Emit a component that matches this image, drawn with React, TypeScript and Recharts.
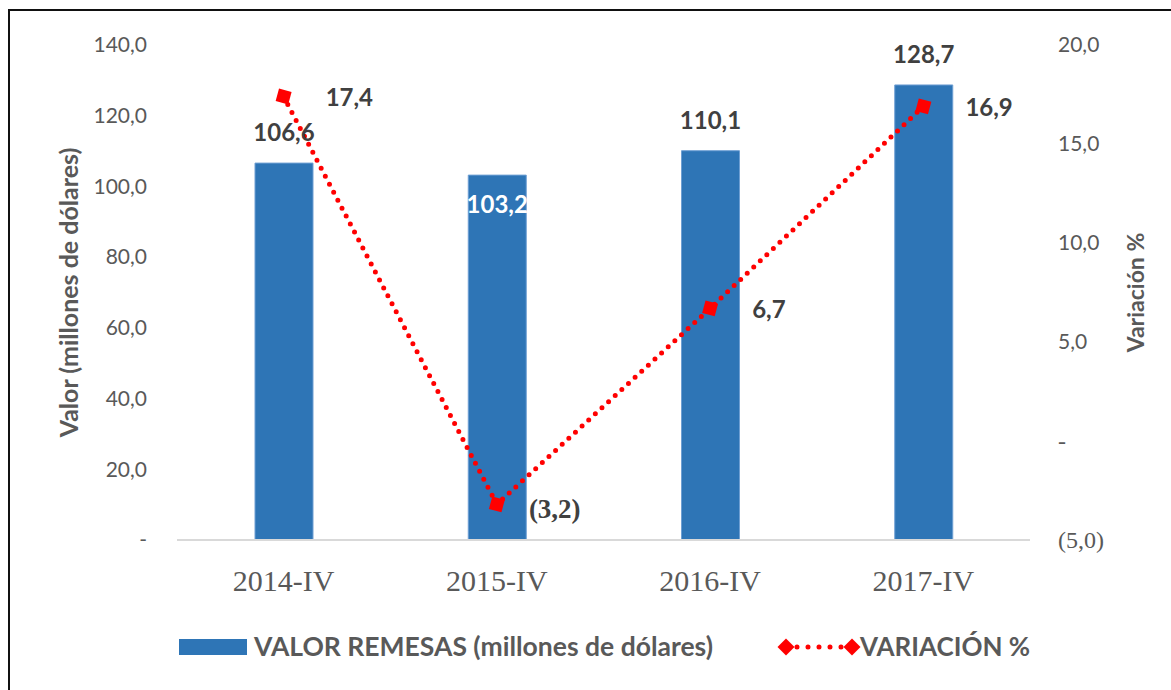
import { ComposedChart, Bar, Line, XAxis, YAxis, LabelList, Label } from "recharts"

const CATEGORIES = ["2014-IV", "2015-IV", "2016-IV", "2017-IV"]
const REMESAS = [106.6, 103.2, 110.1, 128.7]
const VARIACION = [17.4, -3.2, 6.7, 16.9]
const LEFT_TICKS = [0, 20, 40, 60, 80, 100, 120, 140]
const RIGHT_TICKS = [-5, 0, 5, 10, 15, 20]

const data = CATEGORIES.map((name, i) => ({
  name,
  remesas: REMESAS[i],
  variacion: VARIACION[i],
}))

const SANS = "Lato, 'Open Sans', sans-serif"
const SERIF = "'Liberation Serif', 'DejaVu Serif', serif"
const BLUE = "#2E75B6"
const RED = "#FF0000"
const GRAY = "#595959"
const DARK = "#404040"

// formato tipo Excel: 0 -> "-", negativos entre paréntesis
const fmt = (v: number) => {
  if (v === 0) return "-"
  const s = Math.abs(v).toFixed(1).replace(".", ",")
  return v < 0 ? `(${s})` : s
}

const LeftTick = ({ x, y, payload }: any) => (
  <text x={x} y={y} dy="0.35em" textAnchor="end" fontFamily={SANS} fontSize={21} fill={GRAY}>
    {fmt(payload.value)}
  </text>
)

const RightTick = ({ x, y, payload }: any) => {
  const serif = payload.value <= 0
  return (
    <text
      x={x}
      y={y}
      dy="0.35em"
      textAnchor="start"
      fontFamily={serif ? SERIF : SANS}
      fontSize={serif ? 24 : 21}
      fill={GRAY}
    >
      {fmt(payload.value)}
    </text>
  )
}

const XTick = ({ x, y, payload }: any) => (
  <text x={x} y={y + 51} textAnchor="middle" fontFamily={SERIF} fontSize={30} fill={GRAY}>
    {payload.value}
  </text>
)

const BarValue = ({ x, y, width, value, index }: any) => {
  const inside = index === 1
  return (
    <text
      x={x + width / 2}
      y={inside ? y + 29 : y - 30}
      dy="0.35em"
      textAnchor="middle"
      fontFamily={SANS}
      fontWeight={700}
      fontSize={24}
      fill={inside ? "#FFFFFF" : DARK}
    >
      {fmt(value)}
    </text>
  )
}

const LineValue = ({ x, y, value }: any) => {
  const neg = value < 0
  return (
    <text
      x={x + (neg ? 32 : 42)}
      y={y + (neg ? 4 : 1)}
      dy="0.35em"
      textAnchor="start"
      fontFamily={neg ? SERIF : SANS}
      fontWeight={700}
      fontSize={neg ? 27 : 24}
      fill={DARK}
    >
      {fmt(value)}
    </text>
  )
}

const SquareDot = ({ cx, cy }: any) => (
  <rect x={cx - 6.5} y={cy - 6.5} width={13} height={13} fill={RED} transform={`rotate(15 ${cx} ${cy})`} />
)

const AxisTitle = ({ viewBox, value, dx, size }: any) => {
  const cx = viewBox.x + dx
  const cy = viewBox.y + viewBox.height / 2
  return (
    <text
      x={cx}
      y={cy}
      transform={`rotate(-90 ${cx} ${cy})`}
      textAnchor="middle"
      dominantBaseline="central"
      fontFamily={SANS}
      fontWeight={700}
      fontSize={size}
      fill={GRAY}
    >
      {value}
    </text>
  )
}

export default function App() {
  return (
    <div style={{ position: "absolute", left: 0, top: 0, width: 1171, height: 690, overflow: "hidden", background: "#fff" }}>
      <div style={{ position: "absolute", left: 8, top: 9, width: 1200, height: 700, border: "2px solid #111" }} />
      <ComposedChart width={1171} height={690} data={data} margin={{ top: 45, right: 0, bottom: 0, left: 0 }}>
        <XAxis
          dataKey="name"
          height={150}
          tickLine={false}
          tickSize={0}
          tickMargin={0}
          axisLine={{ stroke: "#D9D9D9", strokeWidth: 2 }}
          tick={<XTick />}
        />
        <YAxis
          yAxisId="left"
          width={177}
          domain={[0, 140]}
          ticks={LEFT_TICKS}
          axisLine={false}
          tickLine={false}
          tickSize={0}
          tickMargin={30}
          tick={<LeftTick />}
        >
          <Label content={(p: any) => <AxisTitle {...p} value="Valor (millones de dólares)" dx={68} size={25} />} />
        </YAxis>
        <YAxis
          yAxisId="right"
          orientation="right"
          width={141}
          domain={[-5, 20]}
          ticks={RIGHT_TICKS}
          axisLine={false}
          tickLine={false}
          tickSize={0}
          tickMargin={28}
          tick={<RightTick />}
        >
          <Label content={(p: any) => <AxisTitle {...p} value="Variación %" dx={105} size={23} />} />
        </YAxis>
        <Bar yAxisId="left" dataKey="remesas" barSize={58} fill={BLUE} stroke="#6E9FD3" strokeWidth={1} isAnimationActive={false}>
          <LabelList dataKey="remesas" content={<BarValue />} />
        </Bar>
        <Line
          yAxisId="right"
          dataKey="variacion"
          type="linear"
          stroke={RED}
          strokeWidth={5}
          strokeDasharray="0 9"
          strokeLinecap="round"
          dot={<SquareDot />}
          activeDot={false}
          isAnimationActive={false}
        >
          <LabelList dataKey="variacion" content={<LineValue />} />
        </Line>
      </ComposedChart>
      <svg width={1171} height={690} style={{ position: "absolute", left: 0, top: 0, pointerEvents: "none" }}>
        <rect x={179} y={639} width={68} height={16} fill={BLUE} />
        <text x={254} y={647} dy="0.35em" fontFamily={SANS} fontWeight={700} fontSize={26.5} fill={GRAY}>
          VALOR REMESAS (millones de dólares)
        </text>
        <line x1={786} y1={647} x2={852} y2={647} stroke={RED} strokeWidth={5} strokeDasharray="0 11" strokeLinecap="round" />
        <rect x={780} y={641} width={12} height={12} fill={RED} transform="rotate(45 786 647)" />
        <rect x={846} y={641} width={12} height={12} fill={RED} transform="rotate(45 852 647)" />
        <text x={860} y={647} dy="0.35em" fontFamily={SANS} fontWeight={700} fontSize={26} fill={GRAY}>
          VARIACIÓN %
        </text>
      </svg>
    </div>
  )
}
